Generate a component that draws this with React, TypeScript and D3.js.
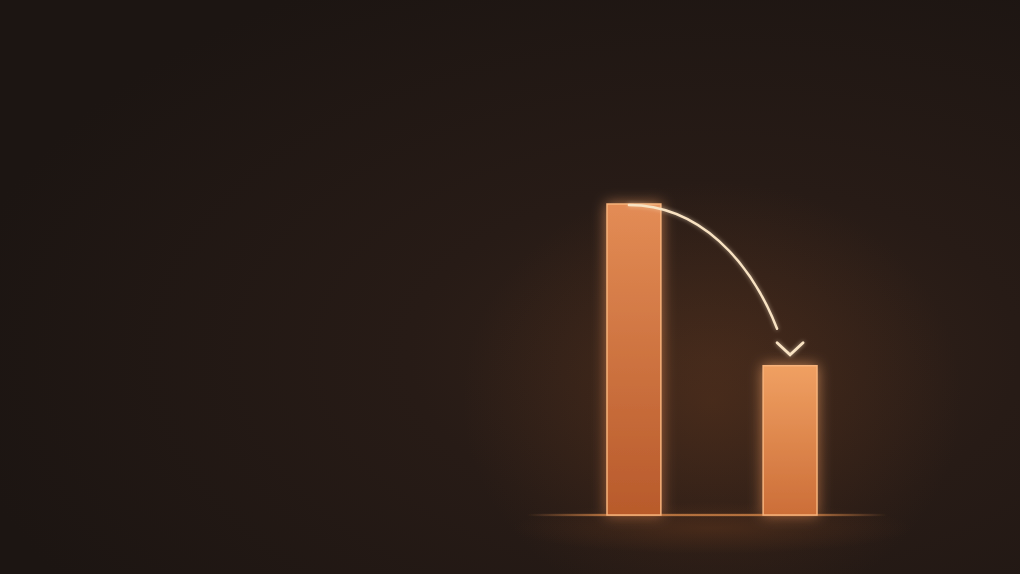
import React from "react";
import * as d3 from "d3";

const categories = ["Before", "After"];
const values = [100, 48];

const W = 1020;
const H = 574;

export default function App() {
  const x = d3.scaleBand<string>().domain(categories).range([607, 817]).paddingInner(0.655).paddingOuter(0);
  const y = d3.scaleLinear().domain([0, 100]).range([515, 204]);
  const bw = x.bandwidth();

  const x0 = (x(categories[0]) as number) + bw / 2;
  const x1 = (x(categories[1]) as number) + bw / 2;
  const y0 = y(values[0]);
  const y1 = y(values[1]);

  const arrowPath = d3.path();
  arrowPath.moveTo(x0 - 5, y0 + 1);
  arrowPath.bezierCurveTo(x0 + 65, y0 + 1, x1 - 40, y0 + 56, x1 - 13, y1 - 37);

  const chevron = d3.line()([
    [x1 - 13, y1 - 23],
    [x1, y1 - 11],
    [x1 + 13, y1 - 23],
  ]) as string;

  const [r0, r1] = x.range();
  const bx0 = r0 - 80;
  const bx1 = r1 + 70;

  return (
    <svg width={W} height={H} style={{ position: "fixed", left: 0, top: 0, display: "block" }}>
      <defs>
        <radialGradient id="bg" cx="0.7" cy="0.62" r="0.75">
          <stop offset="0" stopColor="#35231a" />
          <stop offset="0.4" stopColor="#271b16" />
          <stop offset="1" stopColor="#1c1512" />
        </radialGradient>
        <radialGradient id="halo" cx="0.5" cy="0.5" r="0.5">
          <stop offset="0" stopColor="#7a4220" stopOpacity="0.3" />
          <stop offset="1" stopColor="#7a4220" stopOpacity="0" />
        </radialGradient>
        <linearGradient id="bar0" x1="0" y1="0" x2="0" y2="1">
          <stop offset="0" stopColor="#e38c55" />
          <stop offset="1" stopColor="#b85a2b" />
        </linearGradient>
        <linearGradient id="bar1" x1="0" y1="0" x2="0" y2="1">
          <stop offset="0" stopColor="#f0a062" />
          <stop offset="1" stopColor="#cc6e38" />
        </linearGradient>
        <linearGradient id="base" gradientUnits="userSpaceOnUse" x1={bx0} y1={0} x2={bx1} y2={0}>
          <stop offset="0" stopColor="#e8924f" stopOpacity="0" />
          <stop offset="0.22" stopColor="#e8924f" stopOpacity="0.85" />
          <stop offset="0.78" stopColor="#e8924f" stopOpacity="0.85" />
          <stop offset="1" stopColor="#e8924f" stopOpacity="0" />
        </linearGradient>
        <filter id="glow" x="-100%" y="-50%" width="300%" height="200%">
          <feGaussianBlur in="SourceGraphic" stdDeviation="7" result="b" />
          <feComponentTransfer in="b" result="bf">
            <feFuncA type="linear" slope="0.7" />
          </feComponentTransfer>
          <feMerge>
            <feMergeNode in="bf" />
            <feMergeNode in="SourceGraphic" />
          </feMerge>
        </filter>
        <filter id="glowSmall" x="-50%" y="-50%" width="200%" height="200%">
          <feGaussianBlur in="SourceGraphic" stdDeviation="2" result="b" />
          <feComponentTransfer in="b" result="bf">
            <feFuncA type="linear" slope="0.6" />
          </feComponentTransfer>
          <feMerge>
            <feMergeNode in="bf" />
            <feMergeNode in="SourceGraphic" />
          </feMerge>
        </filter>
      </defs>
      <rect x={0} y={0} width={W} height={H} fill="url(#bg)" />
      <ellipse cx={712} cy={400} rx={250} ry={220} fill="url(#halo)" />
      <ellipse cx={712} cy={528} rx={200} ry={26} fill="url(#halo)" />

      <rect x={bx0} y={y(0) - 0.75} width={bx1 - bx0} height={1.5} fill="url(#base)" filter="url(#glowSmall)" />

      {categories.map((c, i) => (
        <rect
          key={c}
          x={x(c)}
          y={y(values[i])}
          width={bw}
          height={y(0) - y(values[i])}
          fill={`url(#bar${i})`}
          stroke="#f7b27a"
          strokeWidth={1.5}
          filter="url(#glow)"
        />
      ))}

      <path d={arrowPath.toString()} fill="none" stroke="#f8e2c2" strokeWidth={2.5} strokeLinecap="round" filter="url(#glowSmall)" />
      <path d={chevron} fill="none" stroke="#f8e2c2" strokeWidth={2.8} strokeLinecap="round" strokeLinejoin="miter" filter="url(#glowSmall)" />
    </svg>
  );
}
